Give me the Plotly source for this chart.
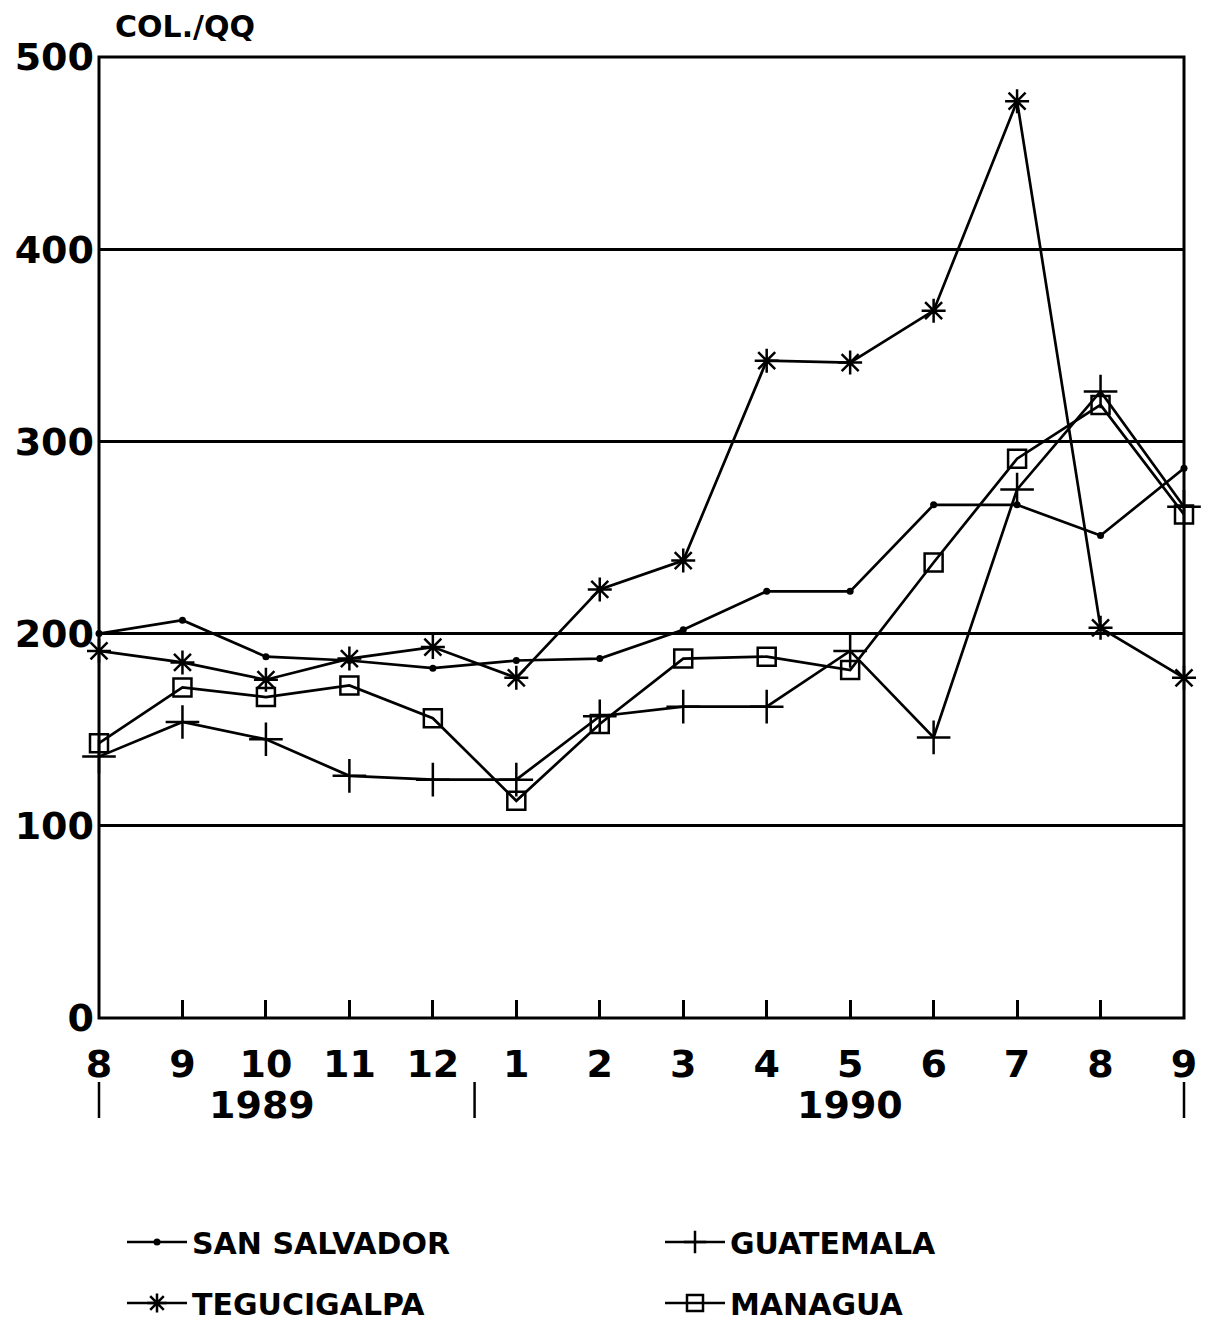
import plotly.graph_objects as go

# Monthly price series, Aug 1989 - Sep 1990 (colones per quintal)
months = ["8", "9", "10", "11", "12", "1", "2", "3", "4", "5", "6", "7", "8", "9"]
san_salvador = [200, 207, 188, 186, 182, 186, 187, 202, 222, 222, 267, 267, 251, 286]
tegucigalpa = [191, 185, 176, 187, 193, 177, 223, 238, 342, 341, 368, 477, 203, 177]
guatemala = [136, 154, 145, 126, 124, 124, 157, 162, 162, 191, 146, 275, 326, 266]
managua = [143, 172, 167, 173, 156, 113, 153, 187, 188, 181, 237, 291, 319, 262]
year_labels = ["1989", "1990"]

x = list(range(len(months)))
FONT = "DejaVu Sans"
INK = "black"

W, H = 1213, 1324
L, R, T, B = 99, 29, 57, 306
PW, PH = W - L - R, H - T - B

fig = go.Figure()

# name, values, marker, legend row, order within row
series = [
    ("SAN SALVADOR", san_salvador, dict(symbol="circle", size=7, color=INK), "legend", 1),
    ("TEGUCIGALPA", tegucigalpa, dict(symbol="asterisk-open", size=20, color=INK,
                                      line=dict(width=2.5, color=INK)), "legend2", 1),
    ("GUATEMALA", guatemala, dict(symbol="cross-thin-open", size=24, color=INK,
                                  line=dict(width=2.5, color=INK)), "legend", 2),
    ("MANAGUA", managua, dict(symbol="square-open", size=18, color=INK,
                              line=dict(width=2.5, color=INK)), "legend2", 2),
]
for name, vals, marker, leg, rank in series:
    fig.add_trace(go.Scatter(
        x=x, y=vals, name=name, mode="lines+markers",
        line=dict(color=INK, width=2.7), marker=marker,
        legend=leg, legendrank=rank, cliponaxis=False,
    ))

# Plot frame
fig.add_shape(type="rect", xref="paper", yref="paper", x0=0, x1=1, y0=0, y1=1,
              line=dict(color=INK, width=3), layer="above")

# Year separators (start, year break, end) and year labels under the month axis
last = len(months) - 1
for xv in [0, 4.5, last]:
    fig.add_shape(type="line", xref="paper", yref="paper", x0=xv / last, x1=xv / last,
                  y0=-(1082 - 1018) / PH, y1=-(1118 - 1018) / PH,
                  line=dict(color=INK, width=2.5))
for xv, txt in zip([1.95, 9.0], year_labels):
    fig.add_annotation(x=xv, y=-(1105 - 1018) / PH, xref="x", yref="paper", text=txt,
                       showarrow=False, yanchor="middle",
                       font=dict(family=FONT, size=38, color=INK, weight="bold"))

# Unit label above the value axis
fig.add_annotation(x=(113 - L) / PW, y=1 + (T - 26) / PH, xref="paper", yref="paper",
                   text="COL./QQ", showarrow=False, xanchor="left", yanchor="middle",
                   font=dict(family=FONT, size=30, color=INK, weight="bold"))

legend_style = dict(
    orientation="h", x=(122 - L) / PW, xanchor="left", yanchor="middle",
    entrywidth=463, entrywidthmode="pixels",
    font=dict(family=FONT, size=30, color=INK, weight="bold"),
    itemwidth=60, bgcolor="rgba(0,0,0,0)",
)

fig.update_layout(
    width=W, height=H,
    margin=dict(l=L, r=R, t=T, b=B, autoexpand=False),
    paper_bgcolor="white", plot_bgcolor="white",
    font=dict(family=FONT, color=INK, size=30, weight="bold"),
    xaxis=dict(
        range=[0, last], tickmode="array", tickvals=x, ticktext=months,
        ticks="inside", ticklen=18, tickwidth=2.5, tickcolor=INK,
        showgrid=False, zeroline=False, showline=False,
        tickfont=dict(family=FONT, size=38, color=INK, weight="bold"),
        ticklabelstandoff=20,
    ),
    yaxis=dict(
        range=[0, 500], tickmode="array", tickvals=[0, 100, 200, 300, 400, 500],
        ticks="", showgrid=True, gridcolor=INK, gridwidth=2.5,
        zeroline=False, showline=False,
        tickfont=dict(family=FONT, size=38, color=INK, weight="bold"),
        ticklabelstandoff=4,
    ),
    showlegend=True,
    legend=dict(legend_style, y=-(1242 - 1018) / PH),
    legend2=dict(legend_style, y=-(1303 - 1018) / PH),
)

fig.write_html("out.html")
